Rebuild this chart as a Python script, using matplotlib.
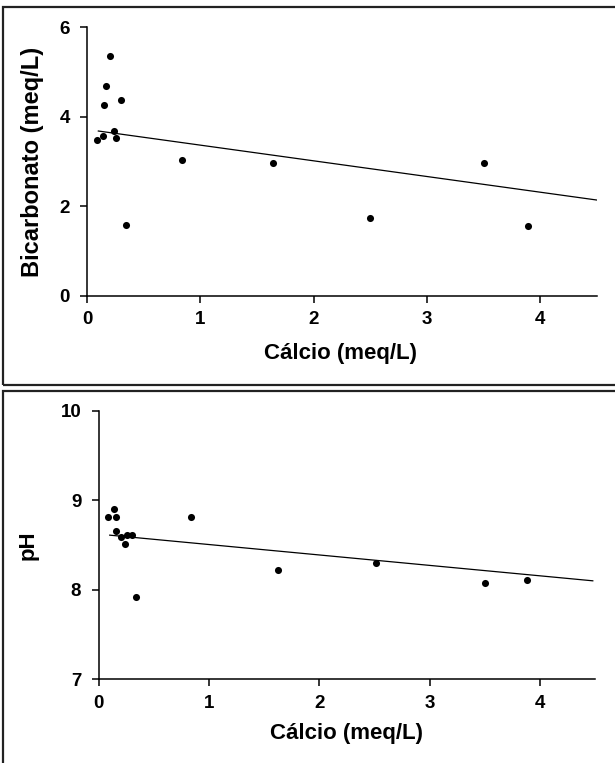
import matplotlib
matplotlib.use("Agg")
import matplotlib.pyplot as plt
from matplotlib.patches import Rectangle

plt.rcParams['font.family'] = ['Liberation Sans', 'DejaVu Sans']
plt.rcParams['font.weight'] = 'bold'

# Data
calcio_top = [0.09, 0.14, 0.15, 0.17, 0.20, 0.24, 0.26, 0.30, 0.34, 0.84, 1.64, 2.50, 3.50, 3.89]
bicarbonato = [3.47, 3.56, 4.27, 4.68, 5.36, 3.69, 3.53, 4.37, 1.58, 3.03, 2.96, 1.74, 2.96, 1.56]
fit_top_x = [0.1, 4.5]
fit_top_y = [3.68, 2.14]

calcio_bot = [0.08, 0.14, 0.155, 0.16, 0.20, 0.24, 0.26, 0.30, 0.34, 0.835, 1.63, 2.51, 3.50, 3.88]
ph = [8.81, 8.90, 8.81, 8.66, 8.59, 8.51, 8.61, 8.61, 7.92, 8.81, 8.22, 8.30, 8.08, 8.11]
fit_bot_x = [0.1, 4.48]
fit_bot_y = [8.61, 8.10]

x_ticks = [0, 1, 2, 3, 4]
top_yticks = [0, 2, 4, 6]
bot_yticks = [7, 8, 9, 10]

W, H = 615, 763
fig = plt.figure(figsize=(W / 100, H / 100), dpi=100)

def px_axes(left, right, top, bottom):
    return fig.add_axes([left / W, (H - bottom) / H, (right - left) / W, (bottom - top) / H])

ax1 = px_axes(87, 597, 27, 296)
ax2 = px_axes(98.7, 595, 410.7, 679.3)

def style(ax):
    for s in ['top', 'right']:
        ax.spines[s].set_visible(False)
    for s in ['left', 'bottom']:
        ax.spines[s].set_linewidth(1.1)
        ax.spines[s].set_color('black')
    ax.tick_params(direction='out', length=5, width=1.1, labelsize=13.5, colors='black')
    ax.tick_params(axis='y', pad=7.5)
    ax.tick_params(axis='x', pad=6)
    for lab in ax.get_xticklabels() + ax.get_yticklabels():
        lab.set_fontweight('bold')

ax1.scatter(calcio_top, bicarbonato, s=26, color='black', zorder=3, linewidths=0)
ax1.plot(fit_top_x, fit_top_y, color='black', lw=0.9)
ax1.set_xlim(0, 4.5)
ax1.set_ylim(0, 6)
ax1.set_xticks(x_ticks)
ax1.set_yticks(top_yticks)
style(ax1)
ax1.set_xlabel('Cálcio (meq/L)', fontsize=16, fontweight='bold')
ax1.set_ylabel('Bicarbonato (meq/L)', fontsize=17, fontweight='bold')
ax1.xaxis.set_label_coords(0.498, -0.175)
ax1.yaxis.set_label_coords(-0.084, 0.5)

ax2.scatter(calcio_bot, ph, s=26, color='black', zorder=3, linewidths=0)
ax2.plot(fit_bot_x, fit_bot_y, color='black', lw=0.9)
ax2.set_xlim(0, 4.5)
ax2.set_ylim(7, 10)
ax2.set_xticks(x_ticks)
ax2.set_yticks(bot_yticks)
style(ax2)
ax2.set_xlabel('Cálcio (meq/L)', fontsize=16, fontweight='bold')
ax2.set_ylabel('pH', fontsize=16, fontweight='bold')
ax2.xaxis.set_label_coords(0.5, -0.163)
ax2.yaxis.set_label_coords(-0.122, 0.5)

def frame(left, right, top, bottom):
    fig.add_artist(Rectangle((left / W, (H - bottom) / H), (right - left) / W, (bottom - top) / H,
                             transform=fig.transFigure, fill=False, edgecolor='#222222', lw=1.6))

frame(2.5, 620, 7, 385)
frame(2.5, 620, 390.5, 770)

fig.savefig('out.png', dpi=100)
